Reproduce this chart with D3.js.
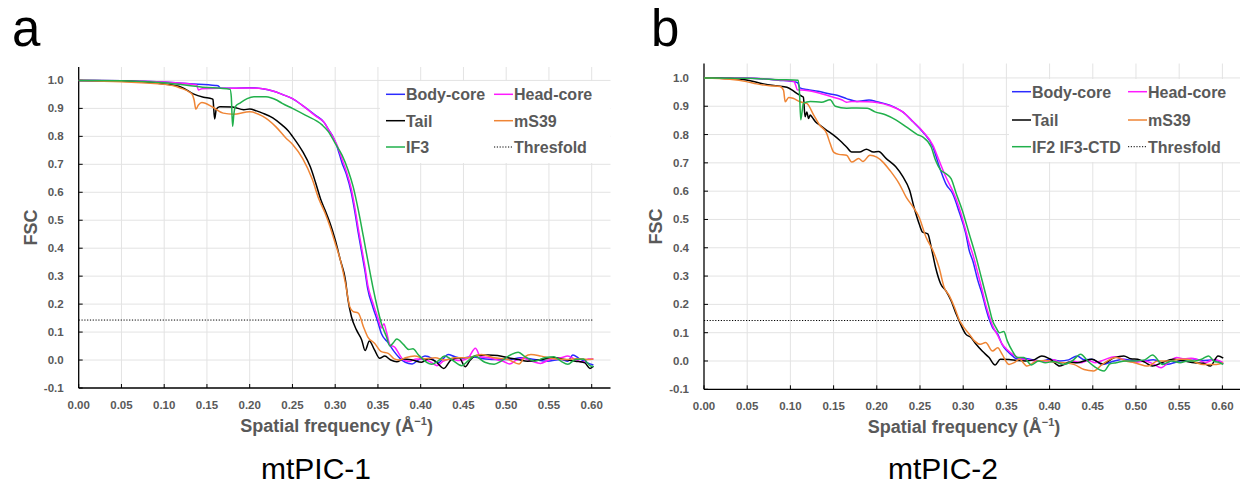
<!DOCTYPE html>
<html>
<head>
<meta charset="utf-8">
<script src="https://cdn.jsdelivr.net/npm/d3@7"></script>
<style>
  body { margin: 0; background: #fff; }
  svg { display: block; font-family: "Liberation Sans", Arial, sans-serif; }
</style>
</head>
<body>
<svg id="chart" width="1248" height="496"></svg>
<script>
// ---- data ----
const xTicks = [0, 0.05, 0.10, 0.15, 0.20, 0.25, 0.30, 0.35, 0.40, 0.45, 0.50, 0.55, 0.60];
const yTicks = [-0.1, 0.0, 0.1, 0.2, 0.3, 0.4, 0.5, 0.6, 0.7, 0.8, 0.9, 1.0];
const threshold = 0.143;

// mtPIC-1
const pic1Body = [[0,1],[0.05,0.999],[0.10,0.994],[0.13,0.988],[0.16,0.982],[0.163,0.981],[0.166,0.972],[0.18,0.972],[0.20,0.974],[0.215,0.97],[0.227,0.962],[0.238,0.95],[0.25,0.935],[0.262,0.91],[0.277,0.875],[0.287,0.85],[0.292,0.825],[0.298,0.795],[0.302,0.765],[0.308,0.705],[0.313,0.665],[0.319,0.596],[0.323,0.53],[0.327,0.455],[0.331,0.385],[0.335,0.315],[0.338,0.255],[0.344,0.19],[0.35,0.135],[0.354,0.095],[0.362,0.062],[0.369,0.03],[0.376,0.005],[0.382,-0.008],[0.39,-0.014],[0.397,0.0],[0.405,0.014],[0.413,0.006],[0.42,-0.01],[0.426,0.004],[0.432,0.02],[0.44,0.012],[0.448,0.006],[0.459,0.012],[0.471,0.006],[0.486,0.002],[0.502,0.002],[0.517,0.008],[0.533,0.002],[0.548,-0.004],[0.564,0.002],[0.572,-0.004],[0.578,0.018],[0.585,0.006],[0.595,-0.01],[0.602,-0.018]];
const pic1Head = [[0,1],[0.05,0.999],[0.10,0.994],[0.138,0.984],[0.140,0.966],[0.144,0.97],[0.17,0.972],[0.20,0.973],[0.215,0.97],[0.227,0.962],[0.238,0.95],[0.25,0.935],[0.262,0.91],[0.277,0.873],[0.287,0.85],[0.292,0.825],[0.298,0.795],[0.302,0.77],[0.308,0.718],[0.313,0.675],[0.319,0.61],[0.323,0.545],[0.327,0.47],[0.331,0.4],[0.335,0.33],[0.338,0.27],[0.344,0.205],[0.35,0.15],[0.354,0.115],[0.357,0.13],[0.36,0.1],[0.364,0.055],[0.37,0.045],[0.375,0.02],[0.38,0.0],[0.387,-0.005],[0.395,0.004],[0.405,0.002],[0.412,-0.008],[0.419,-0.02],[0.426,-0.005],[0.435,0.004],[0.445,-0.002],[0.455,0.006],[0.464,0.042],[0.47,0.012],[0.48,0.008],[0.49,0.0],[0.497,-0.005],[0.504,-0.014],[0.512,0.0],[0.52,0.006],[0.53,-0.004],[0.54,-0.012],[0.55,0.0],[0.557,0.006],[0.564,0.008],[0.572,0.014],[0.58,0.004],[0.589,-0.008],[0.596,0.004],[0.602,0.004]];
const pic1Tail = [[0,1],[0.05,0.998],[0.10,0.987],[0.12,0.976],[0.134,0.952],[0.146,0.94],[0.156,0.934],[0.157,0.932],[0.159,0.862],[0.161,0.898],[0.165,0.906],[0.18,0.905],[0.193,0.895],[0.20,0.898],[0.208,0.891],[0.215,0.883],[0.227,0.866],[0.238,0.84],[0.245,0.82],[0.25,0.8],[0.262,0.745],[0.271,0.69],[0.277,0.635],[0.283,0.575],[0.288,0.537],[0.294,0.489],[0.30,0.43],[0.306,0.358],[0.312,0.286],[0.315,0.215],[0.319,0.155],[0.325,0.107],[0.331,0.072],[0.335,0.034],[0.34,0.068],[0.346,0.036],[0.352,0.006],[0.358,0.014],[0.365,0.0],[0.372,-0.006],[0.38,0.004],[0.39,0.0],[0.401,-0.008],[0.409,0.005],[0.417,-0.004],[0.427,-0.03],[0.436,0.002],[0.445,0.008],[0.452,-0.024],[0.458,0.0],[0.465,0.016],[0.479,0.018],[0.49,0.016],[0.502,0.008],[0.514,0.002],[0.525,-0.004],[0.541,0.002],[0.556,0.008],[0.568,0.002],[0.581,-0.004],[0.592,-0.01],[0.598,-0.03],[0.602,-0.022]];
const pic1MS39 = [[0,1],[0.05,0.995],[0.10,0.986],[0.118,0.974],[0.132,0.953],[0.135,0.93],[0.137,0.897],[0.14,0.912],[0.144,0.921],[0.157,0.904],[0.169,0.883],[0.181,0.879],[0.20,0.888],[0.215,0.872],[0.231,0.833],[0.242,0.795],[0.25,0.772],[0.262,0.72],[0.273,0.648],[0.281,0.575],[0.288,0.527],[0.294,0.477],[0.30,0.418],[0.306,0.358],[0.312,0.274],[0.317,0.191],[0.321,0.173],[0.327,0.168],[0.333,0.119],[0.338,0.083],[0.346,0.06],[0.354,0.03],[0.362,0.024],[0.369,0.004],[0.375,0.0],[0.382,0.008],[0.393,0.014],[0.405,0.005],[0.417,0.008],[0.428,0.0],[0.44,0.008],[0.455,0.008],[0.463,0.014],[0.471,0.02],[0.486,0.008],[0.502,0.002],[0.515,-0.014],[0.522,0.012],[0.529,0.02],[0.541,0.014],[0.556,0.005],[0.572,0.002],[0.583,0.005],[0.595,0.002],[0.602,0.004]];
const pic1IF3 = [[0,1],[0.05,0.999],[0.10,0.992],[0.145,0.976],[0.177,0.968],[0.1785,0.94],[0.18,0.836],[0.1815,0.88],[0.183,0.905],[0.189,0.92],[0.197,0.935],[0.205,0.942],[0.219,0.942],[0.232,0.929],[0.238,0.918],[0.25,0.9],[0.265,0.876],[0.285,0.84],[0.292,0.817],[0.30,0.775],[0.308,0.733],[0.315,0.68],[0.321,0.62],[0.327,0.537],[0.333,0.441],[0.338,0.358],[0.344,0.262],[0.35,0.179],[0.354,0.131],[0.36,0.083],[0.364,0.05],[0.368,0.062],[0.372,0.075],[0.38,0.055],[0.386,0.038],[0.391,0.04],[0.397,0.02],[0.405,-0.004],[0.413,-0.015],[0.42,-0.004],[0.428,0.014],[0.436,0.002],[0.448,-0.02],[0.455,-0.004],[0.463,0.014],[0.475,-0.008],[0.486,-0.015],[0.494,-0.004],[0.506,0.02],[0.514,0.028],[0.521,0.014],[0.533,-0.004],[0.545,0.008],[0.556,0.012],[0.564,-0.004],[0.572,-0.015],[0.581,0.002],[0.59,0.004],[0.598,-0.02],[0.602,-0.024]];

// mtPIC-2
const pic2Body = [[0,1],[0.045,1.0],[0.086,0.992],[0.107,0.985],[0.109,0.98],[0.111,0.965],[0.119,0.959],[0.132,0.953],[0.146,0.943],[0.155,0.938],[0.165,0.927],[0.177,0.917],[0.191,0.922],[0.20,0.916],[0.215,0.904],[0.23,0.88],[0.242,0.845],[0.253,0.81],[0.265,0.756],[0.272,0.69],[0.28,0.626],[0.288,0.59],[0.295,0.53],[0.303,0.45],[0.307,0.39],[0.311,0.355],[0.317,0.284],[0.322,0.236],[0.326,0.189],[0.33,0.148],[0.334,0.118],[0.34,0.095],[0.345,0.059],[0.351,0.035],[0.357,0.018],[0.362,0.008],[0.37,0.01],[0.38,0.004],[0.391,0.0],[0.40,0.006],[0.412,0.0],[0.422,0.004],[0.432,0.018],[0.44,0.004],[0.449,0.006],[0.461,-0.012],[0.475,0.0],[0.486,0.006],[0.496,0.002],[0.506,0.0],[0.52,0.004],[0.535,-0.012],[0.551,0.0],[0.565,0.008],[0.576,0.002],[0.59,0.004],[0.601,-0.01]];
const pic2Head = [[0,1],[0.045,1.0],[0.086,0.993],[0.104,0.988],[0.106,0.975],[0.108,0.958],[0.119,0.956],[0.132,0.948],[0.146,0.935],[0.16,0.922],[0.165,0.914],[0.171,0.917],[0.19,0.916],[0.20,0.913],[0.215,0.902],[0.23,0.88],[0.242,0.845],[0.253,0.812],[0.265,0.762],[0.272,0.709],[0.28,0.65],[0.288,0.6],[0.295,0.545],[0.303,0.46],[0.307,0.415],[0.311,0.378],[0.317,0.31],[0.322,0.25],[0.326,0.2],[0.33,0.16],[0.334,0.125],[0.34,0.09],[0.345,0.06],[0.351,0.04],[0.357,0.024],[0.366,0.008],[0.38,0.002],[0.395,0.0],[0.405,0.004],[0.416,-0.014],[0.426,0.0],[0.436,-0.006],[0.445,0.002],[0.453,-0.006],[0.463,0.004],[0.475,0.015],[0.49,0.0],[0.5,-0.004],[0.51,0.0],[0.52,-0.01],[0.529,-0.024],[0.538,-0.004],[0.547,0.012],[0.556,0.008],[0.564,0.01],[0.572,0.004],[0.58,-0.006],[0.59,0.004],[0.597,0.0],[0.601,-0.006]];
const pic2Tail = [[0,1],[0.03,0.998],[0.049,0.993],[0.069,0.979],[0.084,0.972],[0.096,0.967],[0.103,0.955],[0.107,0.946],[0.113,0.936],[0.115,0.932],[0.117,0.863],[0.119,0.88],[0.121,0.857],[0.123,0.869],[0.125,0.862],[0.129,0.845],[0.134,0.833],[0.142,0.815],[0.15,0.798],[0.157,0.78],[0.165,0.756],[0.171,0.738],[0.18,0.738],[0.188,0.748],[0.196,0.738],[0.202,0.74],[0.211,0.715],[0.222,0.686],[0.23,0.652],[0.238,0.603],[0.243,0.544],[0.249,0.485],[0.253,0.455],[0.259,0.449],[0.263,0.402],[0.268,0.331],[0.274,0.272],[0.28,0.248],[0.286,0.213],[0.292,0.165],[0.297,0.13],[0.303,0.095],[0.309,0.083],[0.315,0.059],[0.322,0.035],[0.33,0.012],[0.337,-0.014],[0.343,0.006],[0.353,0.005],[0.362,0.002],[0.372,0.0],[0.382,0.004],[0.391,0.018],[0.40,0.008],[0.412,-0.018],[0.422,-0.004],[0.432,-0.006],[0.44,0.0],[0.449,0.006],[0.461,-0.01],[0.475,0.012],[0.486,0.018],[0.494,0.008],[0.502,0.006],[0.51,-0.004],[0.519,-0.018],[0.53,-0.006],[0.543,0.006],[0.556,0.0],[0.568,-0.006],[0.578,-0.008],[0.586,-0.018],[0.595,0.018],[0.601,0.01]];
const pic2MS39 = [[0,1],[0.03,0.995],[0.049,0.987],[0.061,0.979],[0.076,0.972],[0.088,0.97],[0.092,0.957],[0.094,0.916],[0.098,0.931],[0.103,0.928],[0.111,0.916],[0.119,0.91],[0.127,0.869],[0.134,0.833],[0.142,0.804],[0.146,0.768],[0.15,0.738],[0.156,0.73],[0.165,0.727],[0.171,0.703],[0.179,0.715],[0.184,0.705],[0.192,0.727],[0.2,0.72],[0.208,0.7],[0.215,0.674],[0.226,0.626],[0.234,0.579],[0.242,0.544],[0.249,0.508],[0.257,0.437],[0.265,0.39],[0.272,0.331],[0.278,0.26],[0.284,0.23],[0.29,0.189],[0.295,0.148],[0.301,0.118],[0.307,0.095],[0.313,0.071],[0.32,0.059],[0.326,0.065],[0.334,0.035],[0.34,0.047],[0.345,0.024],[0.353,-0.012],[0.359,-0.006],[0.365,0.006],[0.374,-0.018],[0.385,0.0],[0.395,0.002],[0.405,-0.004],[0.416,-0.006],[0.428,-0.012],[0.44,-0.03],[0.451,-0.035],[0.461,-0.012],[0.477,0.012],[0.488,0.0],[0.498,-0.006],[0.514,-0.018],[0.525,0.0],[0.539,0.0],[0.55,0.006],[0.56,0.006],[0.57,-0.006],[0.578,-0.012],[0.593,-0.012],[0.601,-0.006]];
const pic2IF = [[0,1],[0.05,0.999],[0.086,0.994],[0.109,0.992],[0.1105,0.95],[0.112,0.852],[0.1135,0.88],[0.115,0.911],[0.123,0.917],[0.136,0.914],[0.146,0.923],[0.152,0.9],[0.165,0.893],[0.177,0.894],[0.189,0.893],[0.198,0.88],[0.21,0.87],[0.222,0.852],[0.235,0.825],[0.247,0.8],[0.253,0.792],[0.263,0.756],[0.268,0.709],[0.274,0.674],[0.28,0.662],[0.286,0.644],[0.292,0.591],[0.299,0.532],[0.307,0.449],[0.315,0.366],[0.32,0.307],[0.326,0.236],[0.33,0.189],[0.334,0.142],[0.338,0.118],[0.342,0.1],[0.347,0.104],[0.351,0.071],[0.357,0.035],[0.363,0.012],[0.37,0.012],[0.379,-0.014],[0.387,0.0],[0.395,-0.006],[0.405,-0.002],[0.416,-0.012],[0.426,0.0],[0.436,0.024],[0.444,0.0],[0.452,-0.02],[0.463,-0.035],[0.47,-0.01],[0.477,-0.006],[0.488,0.0],[0.498,0.0],[0.51,0.004],[0.519,0.021],[0.531,-0.012],[0.541,0.0],[0.551,-0.006],[0.56,0.0],[0.568,0.0],[0.576,0.006],[0.584,0.018],[0.59,0.0],[0.597,-0.006],[0.601,-0.012]];

const colors = { body: "#2b2bff", head: "#ff1aff", tail: "#000000", ms39: "#ef8535", factor: "#21b04b" };
const greyText = "#595959";

const panels = [
  {
    letter: "a", letterX: 12, title: "mtPIC-1", titleX: 316,
    left: 78.7, right: 610.5, top: 67, bottom: 388, fMax: 0.622, yMax: 1.048,
    legend: { x0: 380, x1: 610.5, y0: 81, y1: 163, col: [6, 114], rows: [94.3, 120.7, 147] },
    series: [
      { name: "Body-core", color: colors.body, data: pic1Body },
      { name: "Head-core", color: colors.head, data: pic1Head },
      { name: "Tail", color: colors.tail, data: pic1Tail },
      { name: "mS39", color: colors.ms39, data: pic1MS39 },
      { name: "IF3", color: colors.factor, data: pic1IF3 }
    ]
  },
  {
    letter: "b", letterX: 651, title: "mtPIC-2", titleX: 943,
    left: 704, right: 1240, top: 63.5, bottom: 389.3, fMax: 0.6204, yMax: 1.051,
    legend: { x0: 1009, x1: 1240, y0: 79, y1: 162, col: [3, 119], rows: [91.7, 120, 146.7] },
    series: [
      { name: "Body-core", color: colors.body, data: pic2Body },
      { name: "Head-core", color: colors.head, data: pic2Head },
      { name: "Tail", color: colors.tail, data: pic2Tail },
      { name: "mS39", color: colors.ms39, data: pic2MS39 },
      { name: "IF2 IF3-CTD", color: colors.factor, data: pic2IF }
    ]
  }
];

const svg = d3.select("#chart");

panels.forEach(p => {
  const g = svg.append("g");
  const x = d3.scaleLinear().domain([0, p.fMax]).range([p.left, p.right]);
  const y = d3.scaleLinear().domain([-0.1, p.yMax]).range([p.bottom, p.top]);

  // gridlines
  g.selectAll(".vgrid").data(xTicks.filter(t => t > 0)).enter().append("line")
    .attr("x1", d => x(d)).attr("x2", d => x(d))
    .attr("y1", p.top).attr("y2", p.bottom)
    .attr("stroke", "#e3e3e3").attr("stroke-width", 1);
  g.selectAll(".hgrid").data(yTicks.filter(t => t > -0.1)).enter().append("line")
    .attr("x1", p.left).attr("x2", p.right)
    .attr("y1", d => y(d)).attr("y2", d => y(d))
    .attr("stroke", "#e3e3e3").attr("stroke-width", 1);

  // axes
  g.append("line").attr("x1", p.left).attr("x2", p.left).attr("y1", p.top).attr("y2", p.bottom)
    .attr("stroke", "#000").attr("stroke-width", 1.3);
  g.append("line").attr("x1", p.left).attr("x2", p.right).attr("y1", p.bottom).attr("y2", p.bottom)
    .attr("stroke", "#000").attr("stroke-width", 1.3);
  g.selectAll(".xtick").data(xTicks).enter().append("line")
    .attr("x1", d => x(d)).attr("x2", d => x(d))
    .attr("y1", p.bottom).attr("y2", p.bottom - 4)
    .attr("stroke", "#000").attr("stroke-width", 1);
  g.selectAll(".ytick").data(yTicks).enter().append("line")
    .attr("x1", p.left).attr("x2", p.left + 4)
    .attr("y1", d => y(d)).attr("y2", d => y(d))
    .attr("stroke", "#000").attr("stroke-width", 1);

  // tick labels
  g.selectAll(".xlab").data(xTicks).enter().append("text")
    .attr("x", d => x(d)).attr("y", p.bottom + 21)
    .attr("text-anchor", "middle")
    .style("font-size", "11.5px").style("font-weight", "bold").attr("fill", greyText)
    .text(d => d.toFixed(2));
  g.selectAll(".ylab").data(yTicks).enter().append("text")
    .attr("x", p.left - 15).attr("y", d => y(d) + 4)
    .attr("text-anchor", "end")
    .style("font-size", "11.5px").style("font-weight", "bold").attr("fill", greyText)
    .text(d => d.toFixed(1));

  // axis titles
  const xt = g.append("text")
    .attr("x", (p.left + p.right) / 2 - 8).attr("y", p.bottom + 44)
    .attr("text-anchor", "middle")
    .style("font-size", "18px").style("font-weight", "bold").attr("fill", greyText);
  xt.append("tspan").text("Spatial frequency (Å");
  xt.append("tspan").attr("dy", -7).style("font-size", "11px").text("−1");
  xt.append("tspan").attr("dy", 7).text(")");

  g.append("text")
    .attr("transform", `translate(${p.left - 42},${(p.top + p.bottom) / 2}) rotate(-90)`)
    .attr("text-anchor", "middle")
    .style("font-size", "18px").style("font-weight", "bold").attr("fill", greyText)
    .text("FSC");

  // threshold
  g.append("line")
    .attr("x1", x(0)).attr("x2", x(0.602))
    .attr("y1", y(threshold)).attr("y2", y(threshold))
    .attr("stroke", "#000").attr("stroke-width", 1).attr("stroke-dasharray", "1.2,1.6");

  // curves
  const line = d3.line().x(d => x(d[0])).y(d => y(d[1])).curve(d3.curveMonotoneX);
  g.selectAll(".curve").data(p.series).enter().append("path")
    .attr("d", d => line(d.data))
    .attr("fill", "none")
    .attr("stroke", d => d.color)
    .attr("stroke-width", 1.5)
    .attr("stroke-linejoin", "round");

  // legend
  const L = p.legend;
  g.append("rect").attr("x", L.x0).attr("y", L.y0)
    .attr("width", L.x1 - L.x0).attr("height", L.y1 - L.y0).attr("fill", "#fff");
  const entries = p.series.map(s => ({ name: s.name, color: s.color, dash: null }))
    .concat([{ name: "Thresfold", color: "#000", dash: "1.2,1.6" }]);
  entries.forEach((e, i) => {
    const lx = L.x0 + L.col[i % 2];
    const ly = L.rows[Math.floor(i / 2)];
    g.append("line").attr("x1", lx).attr("x2", lx + 19).attr("y1", ly).attr("y2", ly)
      .attr("stroke", e.color).attr("stroke-width", e.dash ? 1 : 1.5)
      .attr("stroke-dasharray", e.dash);
    g.append("text").attr("x", lx + 20).attr("y", ly + 6)
      .style("font-size", "16px").style("font-weight", "bold").attr("fill", greyText)
      .text(e.name);
  });

  // panel letter and title
  g.append("text").attr("x", p.letterX).attr("y", 46)
    .style("font-size", "51px").attr("fill", "#000").text(p.letter);
  g.append("text").attr("x", p.titleX).attr("y", 479)
    .attr("text-anchor", "middle")
    .style("font-size", "30px").attr("fill", "#000").text(p.title);
});
</script>
</body>
</html>
